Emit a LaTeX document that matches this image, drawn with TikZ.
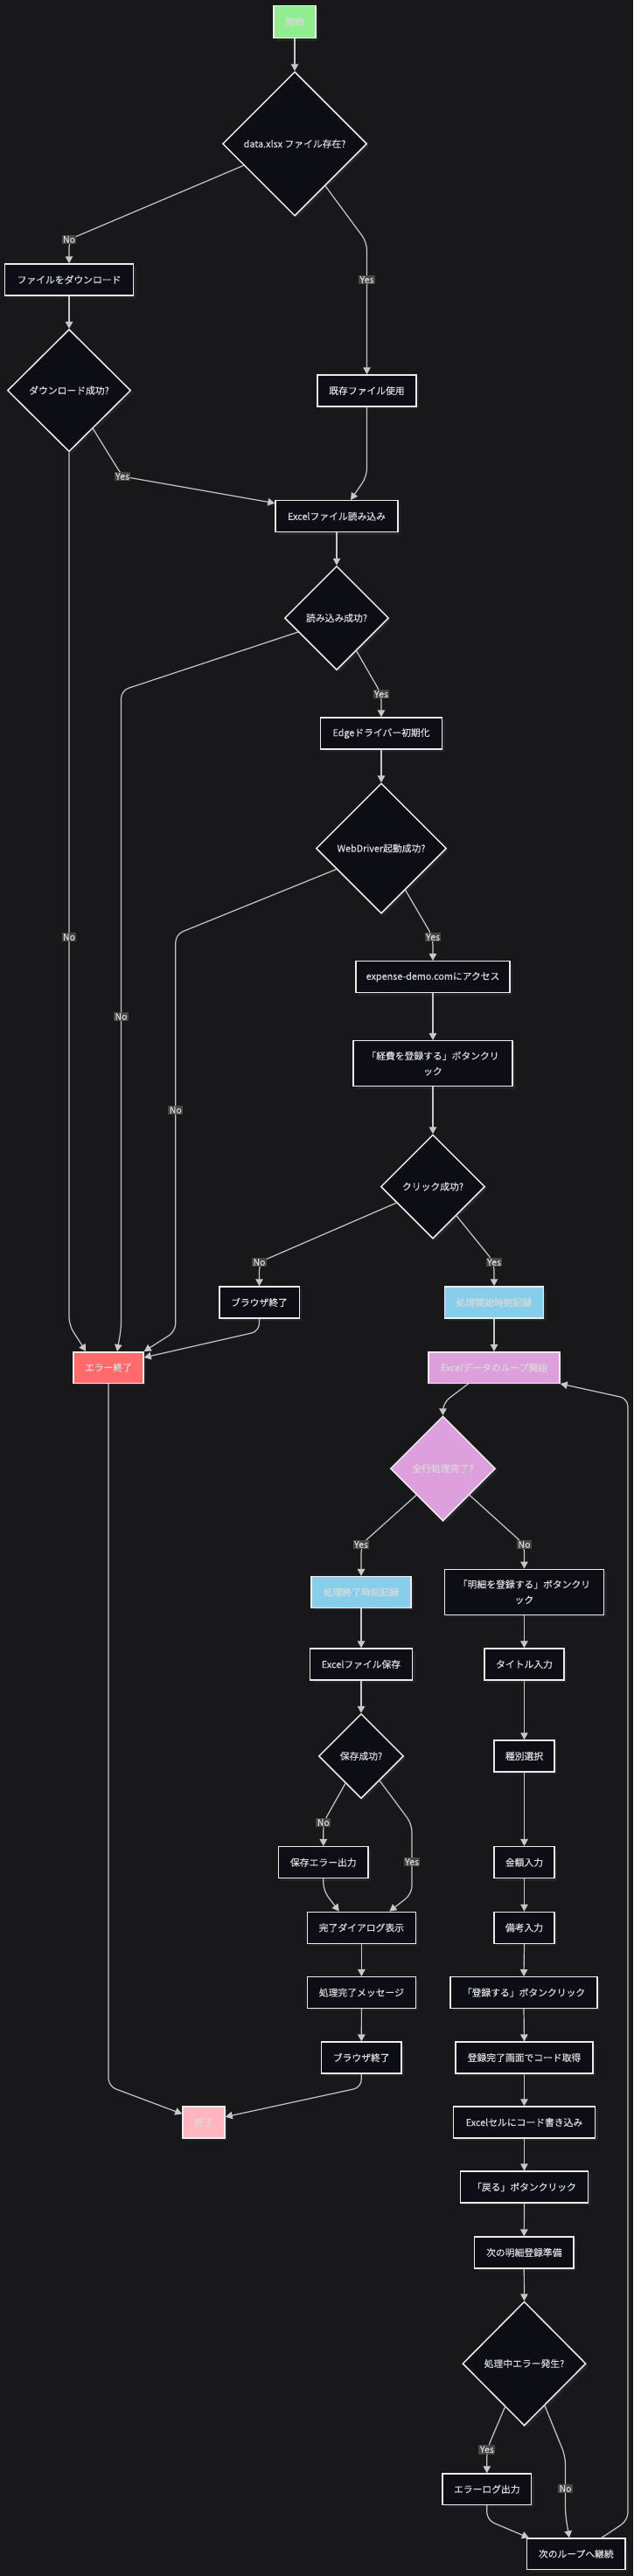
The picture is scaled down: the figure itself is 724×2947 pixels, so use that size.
\documentclass[tikz,border=0pt]{standalone}
\usepackage{fontspec}
\setmainfont{Noto Sans CJK JP}[FakeBold=0.25]
\usetikzlibrary{shapes.geometric,arrows.meta,calc,shadows}
\definecolor{bgc}{RGB}{24,24,27}
\definecolor{shc}{RGB}{36,36,40}
\definecolor{nfill}{RGB}{13,13,21}
\definecolor{nborder}{RGB}{236,236,236}
\definecolor{txtc}{RGB}{218,218,218}
\definecolor{edgec}{RGB}{200,200,200}
\definecolor{lblbg}{RGB}{70,70,70}
\definecolor{cgreen}{HTML}{90EE90}
\definecolor{csky}{HTML}{87CEEB}
\definecolor{cred}{HTML}{FF6B6B}
\definecolor{cplum}{HTML}{DDA0DD}
\definecolor{cpink}{HTML}{FFB6C1}
\newcommand{\nfs}{\fontsize{10.8}{17.7}\selectfont}
\newcommand{\lfs}{\fontsize{10.5}{12}\selectfont}
\tikzset{
  shd/.style={drop shadow={shadow xshift=3pt, shadow yshift=-3pt, fill=shc, opacity=1}},
  box/.style={rectangle, draw=nborder, fill=nfill, line width=1.5pt, text=txtc, inner sep=0pt, font=\nfs, align=center, shd},
  dia/.style={diamond, aspect=1, draw=nborder, fill=nfill, line width=1.5pt, text=txtc, inner sep=0pt, font=\nfs, shd},
  edge/.style={draw=edgec, line width=1.2pt, -{Triangle[length=8pt,width=8.5pt]}, rounded corners=9pt},
  lbl/.style={fill=lblbg, text=txtc, font=\lfs, inner sep=1.5pt, rounded corners=0pt}
}
\begin{document}
\begin{tikzpicture}[x=1pt,y=-1pt]
\fill[bgc] (0,0) rectangle (724,2947);
\useasboundingbox (0,0) rectangle (724,2947);

% nodes
\node[box, fill=cgreen, minimum width=48pt, minimum height=37pt] (start) at (337,25) {開始};
\node[dia, minimum width=165pt, minimum height=165pt] (d1) at (337,164.5) {data.xlsx ファイル存在?};
\node[box, minimum width=147pt, minimum height=36pt] (dl) at (79,320) {ファイルをダウンロード};
\node[box, minimum width=113pt, minimum height=36pt] (exist) at (419.5,447) {既存ファイル使用};
\node[dia, minimum width=141pt, minimum height=140pt] (d2) at (79,446.7) {ダウンロード成功?};
\node[box, minimum width=140pt, minimum height=36pt] (read) at (385,590.7) {Excelファイル読み込み};
\node[dia, minimum width=119pt, minimum height=119pt] (d3) at (385,707) {読み込み成功?};
\node[box, minimum width=139pt, minimum height=36pt] (drv) at (436,839) {Edgeドライバー初期化};
\node[dia, minimum width=149pt, minimum height=149pt] (d4) at (436,970.5) {WebDriver起動成功?};
\node[box, minimum width=176pt, minimum height=36pt] (access) at (495,1117.7) {expense-demo.comにアクセス};
\node[box, minimum width=182pt, minimum height=52pt] (clk1) at (495,1216.7) {「経費を登録する」ボタンクリ\\ック};
\node[dia, minimum width=119pt, minimum height=119pt] (d5) at (495,1357.5) {クリック成功?};
\node[box, minimum width=91.5pt, minimum height=36pt] (br1) at (296.5,1490) {ブラウザ終了};
\node[box, fill=csky, minimum width=113pt, minimum height=36pt] (tstart) at (565,1490) {処理開始時刻記録};
\node[box, fill=cred, minimum width=80pt, minimum height=35.5pt] (err) at (124,1564.5) {エラー終了};
\node[box, fill=cplum, minimum width=150pt, minimum height=35.5pt] (loop) at (565,1564.5) {Excelデータのループ開始};
\node[dia, fill=cplum, minimum width=120pt, minimum height=120pt] (d6) at (506.5,1680) {全行処理完了?};
\node[box, fill=csky, minimum width=113.6pt, minimum height=35.6pt] (tend) at (413,1821.5) {処理終了時刻記録};
\node[box, minimum width=182.4pt, minimum height=52pt] (clk2) at (599.5,1821.3) {「明細を登録する」ボタンクリ\\ック};
\node[box, minimum width=117pt, minimum height=36pt] (save) at (413,1904) {Excelファイル保存};
\node[box, minimum width=91pt, minimum height=36pt] (title) at (599.5,1904) {タイトル入力};
\node[dia, minimum width=97pt, minimum height=97pt] (d7) at (413,2009) {保存成功?};
\node[box, minimum width=69pt, minimum height=36pt] (kind) at (599.5,2009) {種別選択};
\node[box, minimum width=102.5pt, minimum height=36pt] (saveerr) at (369.8,2130.7) {保存エラー出力};
\node[box, minimum width=69pt, minimum height=36pt] (amount) at (599.5,2130.7) {金額入力};
\node[box, minimum width=124pt, minimum height=36pt] (dialog) at (413.4,2205.3) {完了ダイアログ表示};
\node[box, minimum width=69pt, minimum height=36pt] (note) at (599.5,2205.3) {備考入力};
\node[box, minimum width=124pt, minimum height=35.6pt] (msg) at (413.4,2279.5) {処理完了メッセージ};
\node[box, minimum width=168pt, minimum height=35.6pt] (reg) at (599,2279.5) {「登録する」ボタンクリック};
\node[box, minimum width=91.5pt, minimum height=35.7pt] (br2) at (413.3,2354) {ブラウザ終了};
\node[box, minimum width=157.4pt, minimum height=35.7pt] (code) at (599.5,2354) {登録完了画面でコード取得};
\node[box, fill=cpink, minimum width=48pt, minimum height=36pt] (fin) at (233,2428) {終了};
\node[box, minimum width=162pt, minimum height=36pt] (write) at (599.5,2428) {Excelセルにコード書き込み};
\node[box, minimum width=146.4pt, minimum height=35.7pt] (back) at (599.5,2502) {「戻る」ボタンクリック};
\node[box, minimum width=113.5pt, minimum height=35.7pt] (next) at (599.3,2577) {次の明細登録準備};
\node[dia, minimum width=141pt, minimum height=142pt] (d8) at (599.5,2704) {処理中エラー発生?};
\node[box, minimum width=101.6pt, minimum height=35.3pt] (errlog) at (556.8,2847.7) {エラーログ出力};
\node[box, minimum width=112.5pt, minimum height=35.3pt] (cont) at (658.8,2921.7) {次のループへ継続};

% edges
\draw[edge] (start.south) -- (d1.north);
\draw[edge] (d1.203) -- (79,274) node[lbl] (l1) {No} -- (dl.north);
\draw[edge] (d1.-54) -- (419.5,277) -- (419.5,320) node[lbl] (l2) {Yes} -- (exist.north);
\draw[edge] (dl.south) -- (d2.north);
\draw[edge] (d2.-58) -- (140,545) node[lbl] (l3) {Yes} -- (read.168);
\draw[edge] (exist.south) -- (419.5,545) -- ($(read.north)+(16,0)$);
\draw[edge] (read.south) -- (d3.north);
\draw[edge] (d3.200) -- (138.5,790) -- (138.5,1163) node[lbl] (l4) {No} -- (138.5,1520) -- ($(err.north)+(10,0)$);
\draw[edge] (d3.-59) -- (436,794) node[lbl] (l5) {Yes} -- (drv.north);
\draw[edge] (drv.south) -- (d4.north);
\draw[edge] (d4.205) -- (200.8,1069) -- (200.8,1270) node[lbl] (l6) {No} -- (200.8,1523) -- (err.north east);
\draw[edge] (d4.-60) -- (495,1072) node[lbl] (l7) {Yes} -- (access.north);
\draw[edge] (access.south) -- (clk1.north);
\draw[edge] (clk1.south) -- (d5.north);
\draw[edge] (d5.204) -- (296.5,1444) node[lbl] (l8) {No} -- (br1.north);
\draw[edge] (d5.-51) -- (565,1444) node[lbl] (l9) {Yes} -- (tstart.north);
\draw[edge] (d2.south) -- (79,1072) node[lbl] (l10) {No} -- (79,1516) -- ($(err.north west)+(15,0)$);
\draw[edge] (br1.south) -- (296.5,1523) -- ($(err.east)+(0,-11.5)$);
\draw[edge] (tstart.south) -- (loop.north);
\draw[edge] ($(loop.south)+(-29.5,0)$) -- (506.5,1605) -- (d6.north);
\draw[edge] (d6.south west) -- (413,1767) node[lbl] (l11) {Yes} -- (tend.north);
\draw[edge] (d6.south east) -- (599.5,1767) node[lbl] (l12) {No} -- (clk2.north);
\draw[edge] (tend.south) -- (save.north);
\draw[edge] (save.south) -- (d7.north);
\draw[edge] (clk2.south) -- (title.north);
\draw[edge] (title.south) -- (kind.north);
\draw[edge] (kind.south) -- (amount.north);
\draw[edge] (amount.south) -- (note.north);
\draw[edge] (note.south) -- (reg.north);
\draw[edge] (reg.south) -- (code.north);
\draw[edge] (code.south) -- (write.north);
\draw[edge] (write.south) -- (back.north);
\draw[edge] (back.south) -- (next.north);
\draw[edge] (next.south) -- (d8.north);
\draw[edge] (d7.240) -- (369.8,2085) node[lbl] (l13) {No} -- (saveerr.north);
\draw[edge] (d7.-53) -- (471,2086.7) -- (471,2130) node[lbl] (l14) {Yes} -- (471,2166.7) -- ($(dialog.north)+(32,0)$);
\draw[edge] (saveerr.south) -- (369.8,2163) -- ($(dialog.north)+(-25.6,0)$);
\draw[edge] (dialog.south) -- (msg.north);
\draw[edge] (msg.south) -- (br2.north);
\draw[edge] (br2.south) -- (413.3,2388) -- ($(fin.east)+(0,-6.3)$);
\draw[edge] (err.south) -- (124,2386.7) -- ($(fin.west)+(0,-9.7)$);
\draw[edge] (d8.246) -- (556.8,2802.3) node[lbl] (l15) {Yes} -- (errlog.north);
\draw[edge] (d8.-64.5) -- (646.5,2810) -- (646.5,2847) node[lbl] (l16) {No} -- (646.5,2876.7) -- ($(cont.north)+(-7.8,0)$);
\draw[edge] (errlog.south) -- (556.8,2883) -- ($(cont.north west)+(3,0)$);
\draw[edge] ($(cont.north)+(29,0)$) -- (718,2883.3) -- (718,1600) -- (loop.south east);
\end{tikzpicture}
\end{document}
